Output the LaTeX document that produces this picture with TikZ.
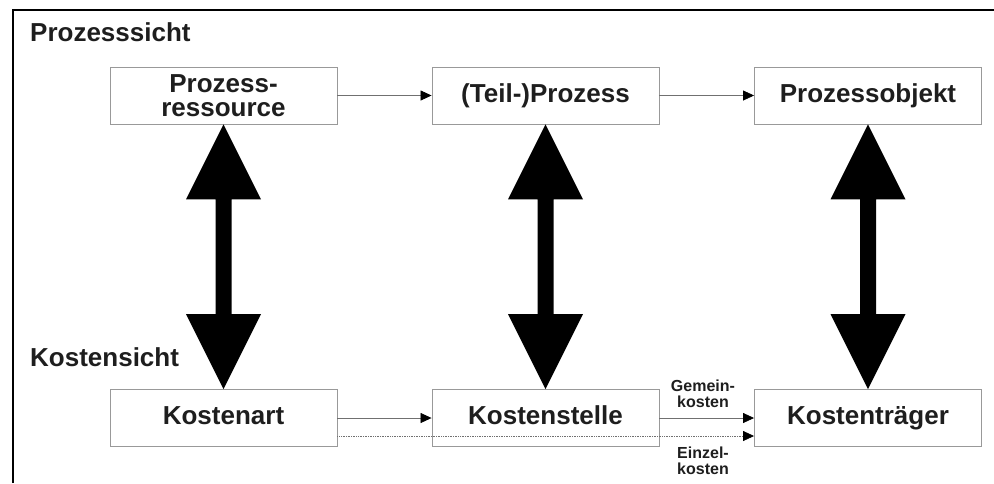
\documentclass[tikz,border=0pt]{standalone}
\usepackage{fontspec}
\setmainfont{Liberation Sans}
\usetikzlibrary{arrows.meta,calc}
\definecolor{boxgray}{HTML}{999999}
\definecolor{linegray}{HTML}{707070}
\definecolor{txt}{HTML}{1E1E1E}
\tikzset{
  box/.style={draw=boxgray, line width=0.9pt, minimum width=227pt, minimum height=57pt,
    inner sep=0pt, align=center, text=txt, font=\fontsize{26}{24}\selectfont\bfseries},
  oneline/.style={text height=19pt, text depth=5.5pt},
  heading/.style={anchor=base west, inner sep=0pt, text=txt, font=\fontsize{26}{26}\selectfont\bfseries},
  small/.style={inner sep=0pt, align=center, text=txt, font=\fontsize{16}{16}\selectfont\bfseries},
  flow/.style={draw=linegray, line width=0.7pt, -{Triangle[length=11pt,width=10pt,color=black]}},
  dotflow/.style={flow, densely dotted},
  bigarrow/.style={fill=black}
}
\begin{document}
\begin{tikzpicture}[x=1pt,y=-1pt]
\useasboundingbox (0,0) rectangle (994,483);
% frame
\draw[line width=1.6pt] (13,483) -- (13,10) -- (994,10);
% headings
\node[heading] (hp) at (30,41) {Prozesssicht};
\node[heading] (hk) at (30,366) {Kostensicht};
% boxes
\node[box] (pr) at (223.5,95.5) {Prozess-\\ressource};
\node[box,oneline] (tp) at (545.5,95.5) {(Teil-)Prozess};
\node[box,oneline] (po) at (868,95.5) {Prozessobjekt};
\node[box,oneline] (ka) at (223.5,418) {Kostenart};
\node[box,oneline] (ks) at (545.5,418) {Kostenstelle};
\node[box,oneline] (kt) at (868,418) {Kostenträger};
% thin connectors
\draw[flow] (pr.east) -- (tp.west);
\draw[flow] (tp.east) -- (po.west);
\draw[flow] (ka.east) -- (ks.west);
\draw[flow] (ks.east) -- (kt.west);
\coordinate (d1) at ($(ka.east)+(0,18)$);
\coordinate (d2) at ($(kt.west)+(0,18)$);
\draw[dotflow] (d1) -- (d2);
% labels
\node[small] (gk) at (703,394) {Gemein-\\kosten};
\node[small] (ek) at (703,461) {Einzel-\\kosten};
% big double arrows
\foreach \a/\b in {pr/ka, tp/ks, po/kt}{
  \fill[bigarrow] (\a.south) -- ++(37.5,75) -- ++(-29.5,0) -- ($(\b.north)+(8,-75)$)
    -- ++(29.5,0) -- (\b.north) -- ++(-37.5,-75) -- ++(29.5,0)
    -- ($(\a.south)+(-8,75)$) -- ++(-29.5,0) -- cycle;
}
\end{tikzpicture}
\end{document}
